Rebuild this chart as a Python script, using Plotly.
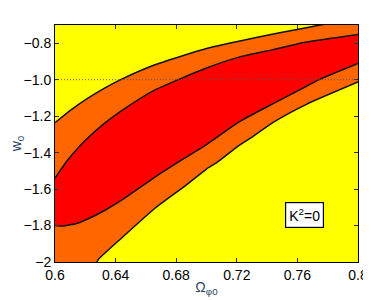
import plotly.graph_objects as go

# Boundary curves
outer_upper_x = [0.600, 0.611, 0.622, 0.633, 0.644, 0.666, 0.700, 0.732, 0.765, 0.780, 0.800]
outer_upper_y = [-1.236, -1.163, -1.100, -1.045, -0.997, -0.918, -0.829, -0.770, -0.716, -0.693, -0.665]

inner_upper_x = [0.600, 0.608, 0.6165, 0.622, 0.633, 0.644, 0.666, 0.700, 0.722, 0.744, 0.765, 0.800]
inner_upper_y = [-1.540, -1.445, -1.362, -1.317, -1.237, -1.170, -1.056, -0.936, -0.875, -0.835, -0.795, -0.752]

inner_lower_x = [0.600, 0.605, 0.615, 0.622, 0.633, 0.644, 0.655, 0.666, 0.685, 0.700, 0.722, 0.744, 0.766, 0.774, 0.800]
inner_lower_y = [-1.800, -1.803, -1.787, -1.763, -1.716, -1.661, -1.598, -1.534, -1.433, -1.356, -1.229, -1.131, -1.036, -1.001, -0.911]

outer_lower_x = [0.620, 0.6277, 0.6286, 0.644, 0.666, 0.685, 0.700, 0.7067, 0.722, 0.729, 0.744, 0.766, 0.800]
outer_lower_y = [-2.060, -2.000, -1.986, -1.868, -1.705, -1.588, -1.490, -1.455, -1.357, -1.321, -1.234, -1.135, -1.013]

x_ticks = [0.6, 0.64, 0.68, 0.72, 0.76, 0.8]
x_ticklabels = ["0.6", "0.64", "0.68", "0.72", "0.76", "0.8"]
y_ticks = [-2.0, -1.8, -1.6, -1.4, -1.2, -1.0, -0.8]
y_ticklabels = ["\u22122", "\u22121.8", "\u22121.6", "\u22121.4", "\u22121.2", "\u22121.0", "\u22120.8"]

label_text = "K<sup>2</sup>=0"
label_x, label_y = 0.7644, -1.743

YELLOW = "#FFFF00"
ORANGE = "#FF6600"
RED = "#FF0000"
FONT = "Liberation Sans, Arial, Helvetica, sans-serif"

fig = go.Figure()

# orange band polygon (outer upper forward, outer lower reversed, close at bottom-left)
ob_x = outer_upper_x + outer_lower_x[::-1] + [0.590, 0.590]
ob_y = outer_upper_y + outer_lower_y[::-1] + [-2.1, outer_upper_y[0]]
fig.add_trace(go.Scatter(x=ob_x, y=ob_y, mode="lines", fill="toself",
                         fillcolor=ORANGE, line=dict(width=0), hoverinfo="skip",
                         showlegend=False))

# red band polygon
rb_x = inner_upper_x + inner_lower_x[::-1]
rb_y = inner_upper_y + inner_lower_y[::-1]
fig.add_trace(go.Scatter(x=rb_x, y=rb_y, mode="lines", fill="toself",
                         fillcolor=RED, line=dict(width=0), hoverinfo="skip",
                         showlegend=False))

for cx, cy in [(outer_upper_x, outer_upper_y), (inner_upper_x, inner_upper_y),
               (inner_lower_x, inner_lower_y), (outer_lower_x, outer_lower_y)]:
    fig.add_trace(go.Scatter(x=cx, y=cy, mode="lines",
                             line=dict(color="#111111", width=1.5, shape="spline", smoothing=0.5),
                             hoverinfo="skip", showlegend=False))

# dotted w0 = -1 line
fig.add_trace(go.Scatter(x=[0.6, 0.8], y=[-1.0, -1.0], mode="lines",
                         line=dict(color="#555555", width=1, dash="1px,2px"),
                         hoverinfo="skip", showlegend=False))

fig.add_annotation(x=label_x, y=label_y, text=label_text, showarrow=False,
                   font=dict(family=FONT, size=14, color="black"),
                   bgcolor="white", bordercolor="black", borderwidth=1.2, borderpad=3)

axis_common = dict(showgrid=False, zeroline=False, showline=True, linecolor="black",
                   linewidth=1, mirror="allticks", ticks="inside", ticklen=4,
                   tickcolor="#333333", automargin=False,
                   tickfont=dict(family=FONT, size=14, color="black"))

# page body has an 8px margin, so the figure is shrunk and shifted accordingly
fig.update_layout(
    width=363, height=292,
    margin=dict(l=47, r=13, t=17, b=38),
    paper_bgcolor="white", plot_bgcolor=YELLOW,
    xaxis=dict(range=[0.6, 0.8], tickvals=x_ticks, ticktext=x_ticklabels,
               title=dict(text="\u03a9<sub>\u03c60</sub>", standoff=0,
                          font=dict(family=FONT, size=14)),
               **axis_common),
    yaxis=dict(range=[-2.0, -0.7], tickvals=y_ticks, ticktext=y_ticklabels,
               title=dict(text="w<sub>0</sub>", standoff=4,
                          font=dict(family=FONT, size=14)),
               **axis_common),
)

fig.write_html("out.html")
